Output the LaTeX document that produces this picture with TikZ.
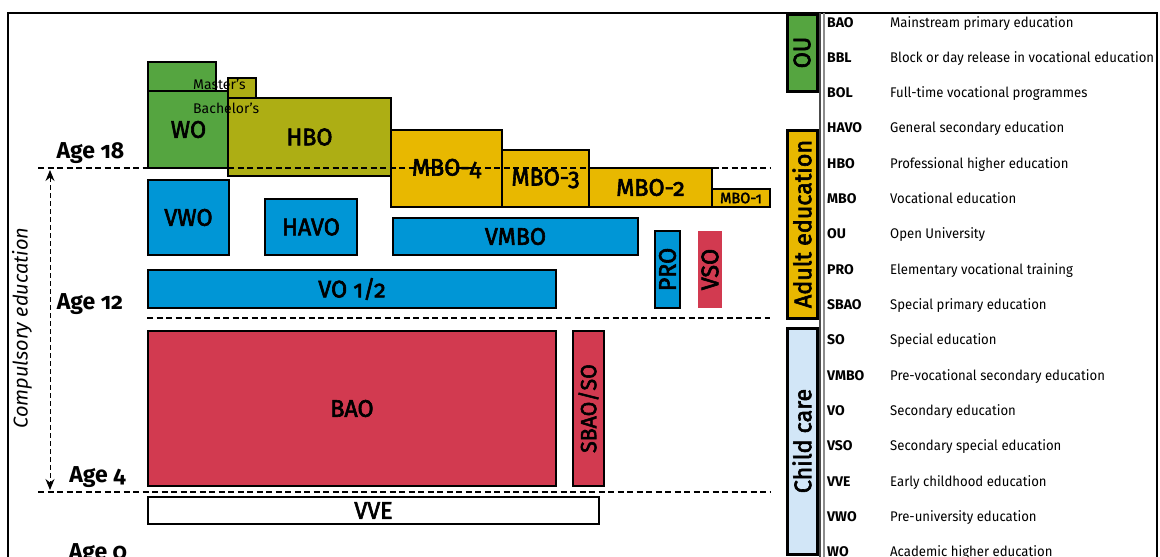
\documentclass[tikz,border=0pt]{standalone}
\usepackage{fontspec}
\setmainfont{Fira Sans}[Numbers=OldStyle]
\newfontfamily\medfont{Fira Sans}[Numbers=OldStyle, FakeBold=2.5, FakeStretch=0.97]
\newfontfamily\descfont{Fira Sans}[FakeStretch=0.94]
\usetikzlibrary{arrows.meta}
\definecolor{cgreen}{HTML}{55A540}
\definecolor{colive}{HTML}{ADAE14}
\definecolor{cgold}{HTML}{E8B800}
\definecolor{cblue}{HTML}{0096D6}
\definecolor{cred}{HTML}{D23A50}
\definecolor{clight}{HTML}{D2E6F7}
\newcommand{\lab}{\medfont\fontsize{24}{24}\selectfont}
\newcommand{\smalllab}{\medfont\fontsize{15}{15}\selectfont}
\begin{document}
\begin{tikzpicture}[x=1pt,y=-1pt,
  box/.style={draw=black, line width=2pt, inner sep=0pt, outer sep=0pt, font=\lab},
  sidebar/.style={draw=black, line width=3pt, inner sep=0pt, outer sep=0pt},
  sidetext/.style={rotate=90, font=\lab},
  agelab/.style={anchor=base, inner sep=0pt, font=\bfseries\fontsize{23}{23}\selectfont},
  ageline/.style={line width=1.8pt, dash pattern=on 6pt off 3.5pt},
  legab/.style={anchor=base west, font=\bfseries\fontsize{14}{14}\selectfont, inner sep=0pt},
  legdesc/.style={anchor=base west, font=\descfont\fontsize{14}{14}\selectfont, inner sep=0pt},
  subtext/.style={anchor=west, font=\fontsize{14}{14}\selectfont, inner sep=0pt}]
\useasboundingbox (0,0) rectangle (1160,557);
% frame
\draw[line width=1.5pt] (8,600) -- (8,13) -- (1157,13) -- (1157,600);
\draw[line width=1.5pt, black!70] (820,13) -- (820,600);
\draw[line width=1.2pt, black!45] (824,13) -- (824,600);
% higher education
\node[box, fill=cgreen, minimum width=68, minimum height=29] (wom) at (182,76.5) {};
\node[box, fill=cgreen, minimum width=81, minimum height=77] (wo) at (188.5,129.5) {WO};
\node[box, fill=colive, minimum width=28, minimum height=20] (hbom) at (242,88) {};
\node[box, fill=colive, minimum width=163, minimum height=78] (hbo) at (309.5,137) {HBO};
\node[subtext] (masters) at (193,84) {Master’s};
\node[subtext] (bachelors) at (193,108) {Bachelor’s};
% MBO
\node[box, fill=cgold, minimum width=111, minimum height=77] (mbo4) at (446.5,168.5) {MBO-4};
\node[box, fill=cgold, minimum width=87, minimum height=57] (mbo3) at (545.5,178.5) {MBO-3};
\node[box, fill=cgold, minimum width=123, minimum height=39] (mbo2) at (650.5,187.5) {MBO-2};
\node[box, fill=cgold, minimum width=58, minimum height=18, font=\smalllab] (mbo1) at (741,198) {MBO-1};
% secondary
\node[box, fill=cblue, minimum width=81, minimum height=75] (vwo) at (188.5,217.5) {VWO};
\node[box, fill=cblue, minimum width=92, minimum height=56] (havo) at (311,227) {HAVO};
\node[box, fill=cblue, minimum width=245, minimum height=37] (vmbo) at (515.5,236.5) {VMBO};
\node[box, fill=cblue, minimum width=25, minimum height=77] (pro) at (667.5,269.5) {};
\node[sidetext] (protext) at (pro.center) {PRO};
\node[fill=cred, inner sep=0pt, minimum width=24, minimum height=77] (vso) at (710,269.5) {};
\node[sidetext] (vsotext) at (vso.center) {VSO};
\node[box, fill=cblue, minimum width=408, minimum height=38] (vo) at (352,289) {VO 1/2};
% primary
\node[box, fill=cred, minimum width=408, minimum height=155] (bao) at (352,408.5) {BAO};
\node[box, fill=cred, minimum width=31, minimum height=155] (sbao) at (588.5,408.5) {};
\node[sidetext, font=\medfont\fontsize{22}{22}\selectfont] (sbaotext) at (sbao.center) {SBAO/SO};
\node[box, fill=white, minimum width=451, minimum height=27] (vve) at (373.5,510.5) {VVE};
% age lines
\draw[ageline] (38,168) -- (770,168);
\draw[ageline] (147,318) -- (770,318);
\draw[ageline] (38,492) -- (770,492);
\node[agelab] (age18) at (90.5,158) {Age 18};
\node[agelab] (age12) at (90,309) {Age 12};
\node[agelab] (age4) at (97.5,482) {Age 4};
\node[agelab] (age0) at (98,559) {Age 0};
% compulsory
\coordinate (ctop) at (50,170);
\coordinate (cbot) at (50,490);
\draw[line width=1pt, dash pattern=on 5pt off 3pt, {Stealth[length=11pt,width=9pt]}-{Stealth[length=11pt,width=9pt]}] (ctop) -- (cbot);
\node[rotate=90, font=\itshape\fontsize{20}{20}\selectfont] (comp) at (22,328) {Compulsory education};
% side bars
\node[sidebar, fill=cgreen, minimum width=30, minimum height=77] (ou) at (802,52.5) {};
\node[sidetext] (outext) at (ou.center) {OU};
\node[sidebar, fill=cgold, minimum width=30, minimum height=188] (adult) at (802,224) {};
\node[sidetext] (adulttext) at (adult.center) {Adult education};
\node[sidebar, fill=clight, minimum width=30, minimum height=226] (child) at (802,441) {};
\node[sidetext] (childtext) at (child.center) {Child care};
% legend
\foreach \a/\d [count=\i from 0] in {BAO/Mainstream primary education,
  BBL/Block or day release in vocational education,
  BOL/Full-time vocational programmes,
  HAVO/General secondary education,
  HBO/Professional higher education,
  MBO/Vocational education,
  OU/Open University,
  PRO/Elementary vocational training,
  SBAO/Special primary education,
  SO/Special education,
  VMBO/Pre-vocational secondary education,
  VO/Secondary education,
  VSO/Secondary special education,
  VVE/Early childhood education,
  VWO/Pre-university education,
  WO/Academic higher education} {
  \node[legab] (ab\i) at (827,{27+35.33*\i}) {\a};
  \node[legdesc] (ld\i) at (890,{27+35.33*\i}) {\d};
}
\end{tikzpicture}
\end{document}
